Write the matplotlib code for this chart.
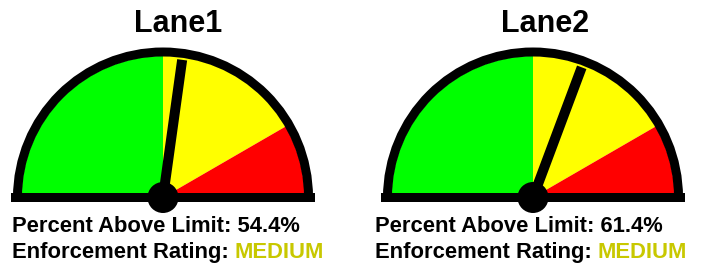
import numpy as np
import matplotlib
matplotlib.use("Agg")
import matplotlib.pyplot as plt
from matplotlib.patches import Wedge, Circle, Rectangle, Polygon

# data
lanes = ["Lane1", "Lane2"]
percent_above = [54.4, 61.4]
ratings = ["MEDIUM", "MEDIUM"]
zone_bounds = [0, 50, 83.3, 100]
zone_colors = ["#00ff00", "#ffff00", "#ff0000"]
rating_color = "#c8c800"

W, H = 711, 266
plt.rcParams['font.family'] = ['Liberation Sans', 'DejaVu Sans']

fig = plt.figure(figsize=(W / 100, H / 100), dpi=100)
ax = fig.add_axes([0, 0, 1, 1])
ax.set_xlim(0, W)
ax.set_ylim(0, H)
ax.set_aspect('equal')
ax.axis('off')

# layout (pixels)
centers_x = [163, 533]
title_x = [178, 545]
text_x = [12, 375]
cy = H - 197.5
R = 150
ring = 9
fs = 15.8


def pct_to_angle(p):
    return 180 - p * 1.8


for i, lane in enumerate(lanes):
    cx = centers_x[i]
    # colored zones
    for a, b, c in zip(zone_bounds[:-1], zone_bounds[1:], zone_colors):
        ax.add_patch(Wedge((cx, cy), R - ring + 0.5, pct_to_angle(b), pct_to_angle(a),
                           facecolor=c, edgecolor='none'))
    # outline arc and baseline
    ax.add_patch(Wedge((cx, cy), R, 0, 180, width=ring, facecolor='black', edgecolor='none'))
    ax.add_patch(Rectangle((cx - 152, cy - 4.5), 304, 9, facecolor='black', edgecolor='none'))

    # needle
    ang = np.radians(pct_to_angle(percent_above[i]))
    L, hw = 139, 5
    d = np.array([np.cos(ang), np.sin(ang)])
    n = np.array([-d[1], d[0]])
    c0 = np.array([cx, cy])
    pts = [c0 + n * hw, c0 + d * L + n * hw, c0 + d * L - n * hw, c0 - n * hw]
    ax.add_patch(Polygon(pts, closed=True, facecolor='black', edgecolor='none'))
    ax.add_patch(Circle((cx, cy), 15.5, facecolor='black', edgecolor='none'))

    # texts
    ax.text(title_x[i], H - 32, lane, fontsize=22, fontweight='bold',
            ha='center', va='baseline')
    x0 = text_x[i]
    ax.text(x0, H - 232, f"Percent Above Limit: {percent_above[i]}%", fontsize=fs,
            fontweight='bold', ha='left', va='baseline')
    t = ax.text(x0, H - 258, "Enforcement Rating: ", fontsize=fs,
                fontweight='bold', ha='left', va='baseline')
    fig.canvas.draw()
    bb = t.get_window_extent().transformed(ax.transData.inverted())
    ax.text(bb.x1, H - 258, ratings[i], fontsize=fs, fontweight='bold',
            color=rating_color, ha='left', va='baseline')

fig.savefig("out.png", dpi=100)
